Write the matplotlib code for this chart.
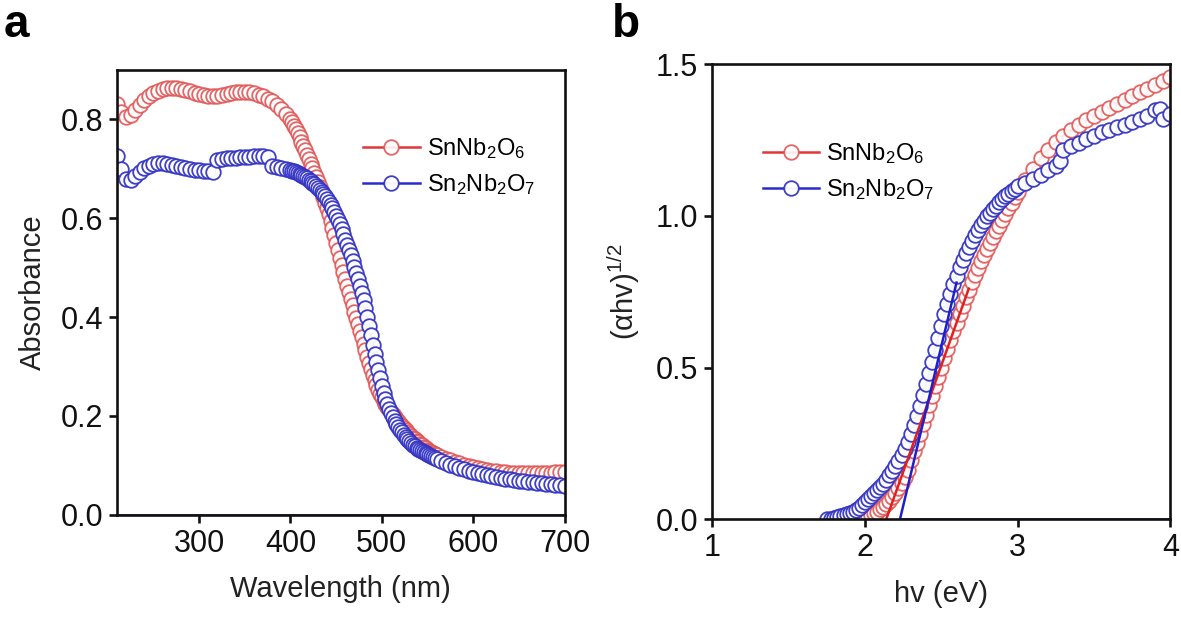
import matplotlib
matplotlib.use("Agg")
from matplotlib import pyplot as plt

## ---- datos panel a: absorbancia vs longitud de onda ----
wl_a = [210, 215, 220, 225, 230, 235, 240, 245, 250, 255, 260, 265, 270, 275,
        280, 285, 290, 295, 300, 305, 310, 315, 320, 325, 330, 335, 340, 345,
        350, 355, 360, 365, 370, 375, 380, 385, 390, 395,
        400, 402, 404, 406, 408, 410, 412, 414, 416, 418, 420, 422, 424, 426,
        428, 430, 432, 434, 436, 438, 440, 442, 444, 446, 448, 450, 452, 454,
        456, 458, 460, 462, 464, 466, 468, 470, 472, 474, 476, 478, 480, 482,
        484, 486, 488, 490, 492, 494, 496, 498, 500, 502, 504, 506, 508, 510,
        512, 514, 516, 518, 520, 522, 524, 526, 528, 530, 532, 534, 536, 538,
        540, 542, 544, 546, 548, 550, 552, 554, 556, 558, 560,
        565, 570, 575, 580, 585, 590, 595, 600, 605, 610, 615, 620, 625, 630,
        635, 640, 645, 650, 655, 660, 665, 670, 675, 680, 685, 690, 695, 700]

abs_snnb2o6 = [0.830, 0.814, 0.805, 0.808, 0.818, 0.829, 0.839, 0.847, 0.853, 0.858,
               0.861, 0.863, 0.864, 0.864, 0.862, 0.860, 0.857, 0.854, 0.851, 0.849,
               0.848, 0.847, 0.848, 0.850, 0.852, 0.854, 0.855, 0.856, 0.856, 0.855,
               0.853, 0.850, 0.847, 0.842, 0.836, 0.829, 0.821, 0.811,
               0.800, 0.794, 0.787, 0.780, 0.772, 0.764, 0.755, 0.746, 0.737, 0.728,
               0.719, 0.710, 0.701, 0.692, 0.683, 0.674, 0.664, 0.653, 0.642, 0.631,
               0.620, 0.608, 0.595, 0.580, 0.565, 0.550, 0.535, 0.520, 0.506, 0.491,
               0.477, 0.463, 0.450, 0.437, 0.424, 0.411, 0.398, 0.385, 0.372, 0.359,
               0.346, 0.333, 0.320, 0.307, 0.295, 0.283, 0.272, 0.262, 0.253, 0.245,
               0.238, 0.231, 0.225, 0.219, 0.213, 0.208, 0.203, 0.198, 0.193, 0.189,
               0.184, 0.179, 0.175, 0.171, 0.167, 0.163, 0.159, 0.156, 0.153, 0.150,
               0.147, 0.144, 0.141, 0.138, 0.135, 0.132, 0.130, 0.127, 0.125, 0.122,
               0.120,
               0.116, 0.113, 0.110, 0.107, 0.104, 0.101, 0.099, 0.097, 0.095, 0.093,
               0.091, 0.089, 0.088, 0.087, 0.086, 0.085, 0.085, 0.084, 0.084, 0.084,
               0.084, 0.084, 0.085, 0.085, 0.085, 0.086, 0.086, 0.086]

abs_sn2nb2o7 = [0.725, 0.700, 0.680, 0.678, 0.685, 0.694, 0.701, 0.706, 0.709, 0.711,
                0.711, 0.710, 0.708, 0.705, 0.703, 0.701, 0.699, 0.698, 0.697, 0.696,
                0.695, 0.694, 0.718, 0.720, 0.721, 0.722, 0.722, 0.723, 0.724, 0.724,
                0.725, 0.725, 0.725, 0.724, 0.705, 0.703, 0.701, 0.699,
                0.697, 0.696, 0.695, 0.694, 0.692, 0.690, 0.688, 0.686, 0.684, 0.681,
                0.678, 0.675, 0.672, 0.669, 0.665, 0.661, 0.657, 0.653, 0.649, 0.644,
                0.639, 0.633, 0.627, 0.620, 0.613, 0.605, 0.597, 0.588, 0.578, 0.567,
                0.556, 0.545, 0.535, 0.525, 0.513, 0.501, 0.489, 0.476, 0.463, 0.449,
                0.434, 0.418, 0.400, 0.382, 0.363, 0.344, 0.326, 0.309, 0.292, 0.276,
                0.261, 0.247, 0.235, 0.224, 0.214, 0.205, 0.197, 0.190, 0.183, 0.177,
                0.172, 0.167, 0.162, 0.157, 0.153, 0.149, 0.145, 0.142, 0.139, 0.136,
                0.134, 0.131, 0.129, 0.127, 0.125, 0.123, 0.121, 0.119, 0.117, 0.115,
                0.113,
                0.109, 0.105, 0.101, 0.098, 0.095, 0.092, 0.089, 0.086, 0.084, 0.082,
                0.080, 0.078, 0.076, 0.075, 0.073, 0.072, 0.070, 0.069, 0.068, 0.067,
                0.066, 0.065, 0.064, 0.063, 0.062, 0.061, 0.060, 0.059]

## ---- datos panel b: Tauc (alpha h nu)^1/2 vs h nu ----
hv_snnb2o6 = [1.96, 1.98, 2.00, 2.02, 2.04, 2.06, 2.08, 2.10, 2.12, 2.14, 2.16, 2.18,
              2.20, 2.22, 2.24, 2.26, 2.28, 2.30, 2.32, 2.34, 2.36, 2.38, 2.40, 2.42,
              2.44, 2.46, 2.48, 2.50, 2.52, 2.54, 2.56, 2.58, 2.60, 2.62, 2.64, 2.66,
              2.68, 2.70, 2.72, 2.74, 2.76, 2.78, 2.80, 2.82, 2.84, 2.86, 2.88, 2.90,
              2.92, 2.94, 2.96, 2.98, 3.00, 3.05, 3.10, 3.15, 3.20, 3.25, 3.30, 3.35,
              3.40, 3.45, 3.50, 3.55, 3.60, 3.65, 3.70, 3.75, 3.80, 3.85, 3.90, 3.95,
              4.00]
tauc_snnb2o6 = [0.000, 0.003, 0.006, 0.010, 0.014, 0.019, 0.025, 0.032, 0.040, 0.049,
                0.060, 0.072, 0.086, 0.102, 0.120, 0.140, 0.162, 0.196, 0.223, 0.252,
                0.282, 0.313, 0.345, 0.376, 0.407, 0.438, 0.469, 0.500, 0.530, 0.560,
                0.590, 0.619, 0.648, 0.676, 0.704, 0.731, 0.757, 0.782, 0.806, 0.829,
                0.851, 0.872, 0.892, 0.912, 0.931, 0.950, 0.968, 0.988, 1.007, 1.026,
                1.044, 1.062, 1.080, 1.120, 1.155, 1.190, 1.218, 1.243, 1.264, 1.283,
                1.300, 1.315, 1.330, 1.344, 1.357, 1.370, 1.383, 1.395, 1.407, 1.419,
                1.431, 1.444, 1.458]

hv_sn2nb2o7 = [1.75, 1.78, 1.80, 1.82, 1.84, 1.86, 1.88, 1.90, 1.92, 1.94, 1.96, 1.98,
               2.00, 2.02, 2.04, 2.06, 2.08, 2.10, 2.12, 2.14, 2.16, 2.18, 2.20, 2.22,
               2.24, 2.26, 2.28, 2.30, 2.32, 2.34, 2.36, 2.38, 2.40, 2.42, 2.44, 2.46,
               2.48, 2.50, 2.52, 2.54, 2.56, 2.58, 2.60, 2.62, 2.64, 2.66, 2.68, 2.70,
               2.72, 2.74, 2.76, 2.78, 2.80, 2.82, 2.84, 2.86, 2.88, 2.90, 2.92, 2.94,
               2.96, 2.98, 3.00, 3.05, 3.10, 3.15, 3.20, 3.25, 3.28, 3.30, 3.35, 3.40,
               3.45, 3.50, 3.55, 3.60, 3.65, 3.70, 3.75, 3.80, 3.85, 3.90, 3.93, 3.95,
               4.00]
tauc_sn2nb2o7 = [0.000, 0.002, 0.004, 0.006, 0.009, 0.012, 0.016, 0.020, 0.025, 0.031,
                 0.038, 0.046, 0.055, 0.065, 0.076, 0.085, 0.095, 0.105, 0.117, 0.130,
                 0.144, 0.158, 0.174, 0.191, 0.210, 0.231, 0.254, 0.280, 0.309, 0.340,
                 0.373, 0.408, 0.444, 0.481, 0.519, 0.557, 0.597, 0.638, 0.675, 0.710,
                 0.743, 0.774, 0.803, 0.830, 0.855, 0.878, 0.899, 0.918, 0.936, 0.953,
                 0.969, 0.984, 0.998, 1.011, 1.023, 1.034, 1.045, 1.055, 1.064, 1.073,
                 1.081, 1.089, 1.097, 1.109, 1.122, 1.135, 1.150, 1.166, 1.180, 1.218,
                 1.230, 1.242, 1.254, 1.265, 1.275, 1.284, 1.292, 1.300, 1.308, 1.318,
                 1.330, 1.348, 1.352, 1.318, 1.335]

## rectas tangentes (extrapolacion del gap)
tan_snnb2o6_x = [2.14, 2.68]
tan_snnb2o6_y = [0.0, 0.76]
tan_sn2nb2o7_x = [2.23, 2.60]
tan_sn2nb2o7_y = [0.0, 0.78]
base_b_x = [2.23, 4.0]
base_b_y = [0.0, 0.0]

labels = [r"SnNb$_\mathregular{2}$O$_\mathregular{6}$",
          r"Sn$_\mathregular{2}$Nb$_\mathregular{2}$O$_\mathregular{7}$"]

RED = "#e01f1f"
RED_M = "#e25555"
BLUE = "#1f1fcc"
BLUE_M = "#3434c4"


def main():
    plt.rcParams["font.family"] = ["Liberation Sans", "DejaVu Sans"]
    plt.rcParams["mathtext.fontset"] = "custom"
    plt.rcParams["mathtext.rm"] = "Liberation Sans"
    plt.rcParams["mathtext.it"] = "Liberation Sans:italic"
    plt.rcParams["mathtext.bf"] = "Liberation Sans:bold"

    fig = plt.figure(figsize=(11.81, 6.18), dpi=100)
    ax_a = fig.add_axes([0.099, 0.167, 0.379, 0.720])
    ax_b = fig.add_axes([0.603, 0.160, 0.388, 0.736])

    plot_absorbance(ax_a)
    plot_tauc(ax_b)

    fig.text(0.003, 0.995, "a", fontsize=33, fontweight="bold", va="top", ha="left")
    fig.text(0.518, 0.995, "b", fontsize=33, fontweight="bold", va="top", ha="left")

    plt.savefig("out.png", dpi=100)


def style_axes(ax):
    for s in ax.spines.values():
        s.set_linewidth(1.9)
        s.set_color("#111111")
    ax.tick_params(direction="out", length=6, width=1.9, labelsize=22,
                   colors="#111111", pad=4, top=False, right=False)


def series(ax, x, y, line_color, marker_color, label, alpha):
    ax.plot(x, y, "-o", color=line_color, lw=1.8, markersize=10.5,
            markerfacecolor="white", markeredgecolor=marker_color,
            markeredgewidth=1.3, alpha=alpha, label=label)


def plot_absorbance(ax):
    ax.axhline(0, color=BLUE, lw=1.2)
    series(ax, wl_a, abs_snnb2o6, RED, RED_M, labels[0], 0.9)
    series(ax, wl_a, abs_sn2nb2o7, BLUE, BLUE_M, labels[1], 0.95)
    ax.set_xlim(210, 700)
    ax.set_ylim(0, 0.9)
    ax.set_xticks([300, 400, 500, 600, 700])
    ax.set_yticks([0.0, 0.2, 0.4, 0.6, 0.8])
    ax.set_yticklabels(["0.0", "0.2", "0.4", "0.6", "0.8"])
    style_axes(ax)
    ax.set_xlabel("Wavelength (nm)", fontsize=21, color="#222222", labelpad=12)
    ax.set_ylabel("Absorbance", fontsize=21, color="#222222", labelpad=10)
    ax.legend(loc="upper left", bbox_to_anchor=(0.55, 0.85), frameon=False,
              fontsize=17, numpoints=1, handlelength=2.4, handletextpad=0.3,
              labelspacing=0.45, borderpad=0, borderaxespad=0)


def plot_tauc(ax):
    ax.plot(base_b_x, base_b_y, color=BLUE, lw=1.2)
    series(ax, hv_snnb2o6, tauc_snnb2o6, RED, RED_M, labels[0], 0.9)
    series(ax, hv_sn2nb2o7, tauc_sn2nb2o7, BLUE, BLUE_M, labels[1], 0.95)
    ax.plot(tan_snnb2o6_x, tan_snnb2o6_y, color=RED, lw=1.8)
    ax.plot(tan_sn2nb2o7_x, tan_sn2nb2o7_y, color=BLUE, lw=1.8)
    ax.set_xlim(1, 4)
    ax.set_ylim(0, 1.5)
    ax.set_xticks([1, 2, 3, 4])
    ax.set_yticks([0.0, 0.5, 1.0, 1.5])
    ax.set_yticklabels(["0.0", "0.5", "1.0", "1.5"])
    style_axes(ax)
    ax.set_xlabel("hv (eV)", fontsize=21, color="#222222", labelpad=12)
    ax.set_ylabel(r"(αhv)$^\mathregular{1/2}$", fontsize=21, color="#222222", labelpad=10)
    ax.legend(loc="upper left", bbox_to_anchor=(0.11, 0.83), frameon=False,
              fontsize=17, numpoints=1, handlelength=2.4, handletextpad=0.3,
              labelspacing=0.45, borderpad=0, borderaxespad=0)


if __name__ == "__main__":
    main()
